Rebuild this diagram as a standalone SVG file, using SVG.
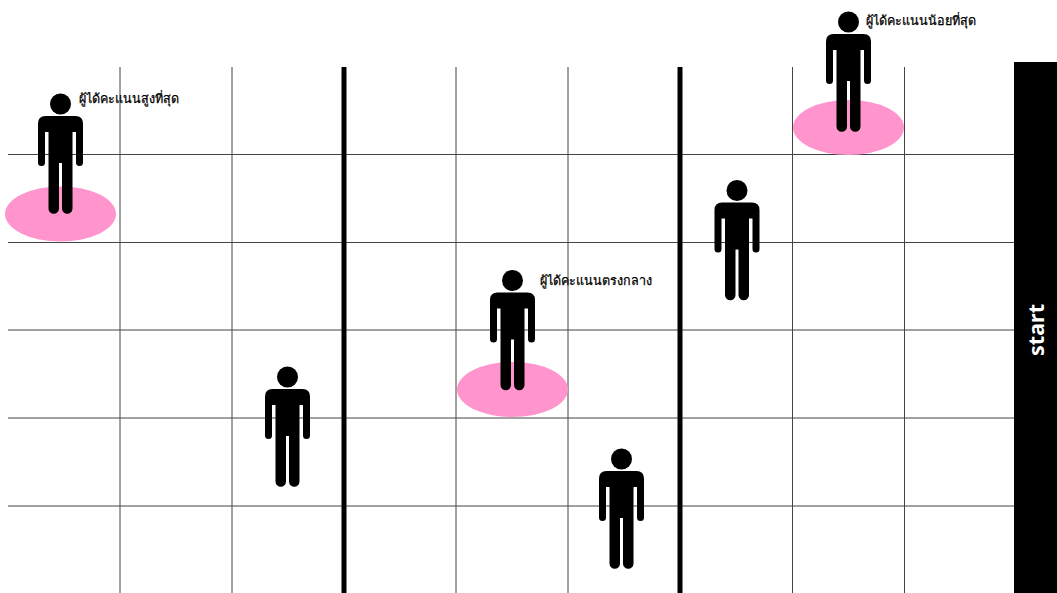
<svg xmlns="http://www.w3.org/2000/svg" width="1057" height="593" viewBox="0 0 1057 593">
<style>
.grid{stroke:#444;stroke-width:1;fill:none}
.thick{stroke:#000;stroke-width:5;fill:none}
.spot{fill:#ff95cc}
.fig{fill:#000}
.lbl{font-family:"Noto Sans","Liberation Sans",sans-serif;font-size:12.6px;font-weight:500;fill:#000;stroke:#000;stroke-width:.25px}
.start{font-family:"Noto Sans","Liberation Sans",sans-serif;font-size:21.5px;font-weight:700;fill:#fff;text-anchor:middle}
</style>
<defs>
<g id="person" class="fig">
<circle cx="0" cy="0" r="10.5"/>
<path d="M-15,12H15Q22.5,12 22.5,19.5V58.500A3.500,3.500 0 0 1 15.500,58.500V28H12V104.500A5.250,5.250 0 0 1 1.500,104.500V59H-1.500V104.500A5.250,5.250 0 0 1 -12,104.500V28H-15.500V58.500A3.500,3.500 0 0 1 -22.500,58.500V19.500Q-22.500,12 -15,12Z"/>
</g>
</defs>
<rect width="1057" height="593" fill="#fff"/>
<g id="connectors">
<path class="grid" d="M120,67V593M232,67V593M456,67V593M568,67V593M792.500,67V593M904.500,67V593"/>
<path class="grid" d="M8,154.500H1014M8,242.500H1014M8,330H1014M8,418H1014M8,506H1014"/>
<path class="thick" d="M344,67V593M680,67V593"/>
</g>
<g id="bar"><rect x="1014" y="62" width="43" height="531" fill="#000"/>
<text class="start" transform="translate(1044,330) rotate(-90)">start</text></g>
<g id="highest"><ellipse class="spot" cx="60.500" cy="214" rx="55.500" ry="27.500"/><use href="#person" x="60.500" y="104"/><text class="lbl" x="79" y="103">ผู้ได้คะแนนสูงที่สุด</text></g>
<g id="lowest"><ellipse class="spot" cx="848.500" cy="127.500" rx="55.500" ry="27.500"/><use href="#person" x="848.500" y="22"/><text class="lbl" x="866" y="25">ผู้ได้คะแนนน้อยที่สุด</text></g>
<g id="middle"><ellipse class="spot" cx="512.500" cy="389.500" rx="55.500" ry="27.500"/><use href="#person" x="512.500" y="280.500"/><text class="lbl" x="540" y="285">ผู้ได้คะแนนตรงกลาง</text></g>
<g id="p4"><use href="#person" x="737" y="190.500"/></g>
<g id="p5"><use href="#person" x="287.500" y="377"/></g>
<g id="p6"><use href="#person" x="621.500" y="459"/></g>
</svg>
